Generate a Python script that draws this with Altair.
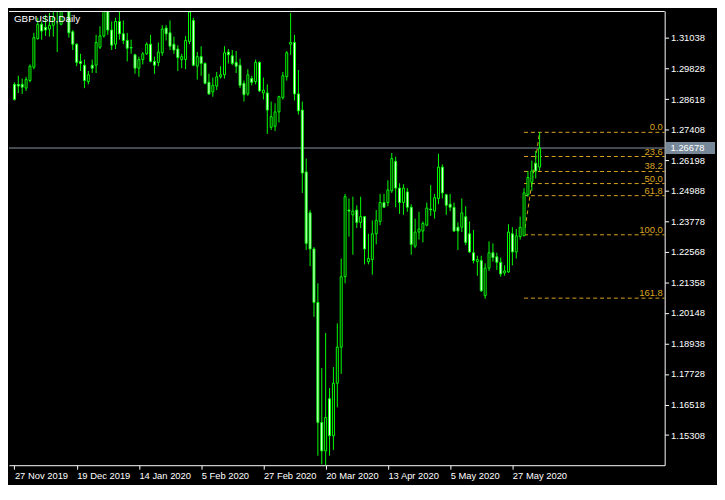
import altair as alt
import pandas as pd

# ---- daily GBPUSD candles, bar index 0 = 27 Nov 2019 ----
opens = [1.2920, 1.2920, 1.2920, 1.2905, 1.2935, 1.2988, 1.3101, 1.3158, 1.3146, 1.3139,
         1.3154, 1.3230, 1.3158, 1.3300, 1.3290, 1.3128, 1.3079, 1.3011, 1.2996, 1.2931,
         1.2996, 1.2996, 1.3067, 1.3112, 1.3225, 1.3135, 1.3079, 1.3169, 1.3120, 1.3094,
         1.3066, 1.3037, 1.2984, 1.3018, 1.3041, 1.3079, 1.3011, 1.3007, 1.3045, 1.3143,
         1.3124, 1.3079, 1.3060, 1.3018, 1.3018, 1.3090, 1.3173, 1.2992, 1.3030, 1.3003,
         1.2928, 1.2890, 1.2913, 1.2950, 1.2958, 1.3048, 1.3033, 1.3007, 1.2996, 1.2924,
         1.2882, 1.2943, 1.2931, 1.3007, 1.2886, 1.2886, 1.2750, 1.2754, 1.2811, 1.2867,
         1.2950, 1.3079, 1.3086, 1.2882, 1.2818, 1.2573, 1.2411, 1.2268, 1.2056, 1.1581,
         1.1468, 1.1675, 1.1528, 1.1736, 1.1879, 1.2158, 1.2422, 1.2403, 1.2422, 1.2373,
         1.2396, 1.2218, 1.2226, 1.2328, 1.2377, 1.2452, 1.2452, 1.2498, 1.2615, 1.2509,
         1.2452, 1.2494, 1.2433, 1.2279, 1.2335, 1.2339, 1.2362, 1.2426, 1.2418, 1.2468,
         1.2592, 1.2483, 1.2445, 1.2433, 1.2354, 1.2354, 1.2396, 1.2328, 1.2253, 1.2218,
         1.2222, 1.2083, 1.2192, 1.2253, 1.2237, 1.2215, 1.2173, 1.2177, 1.2328, 1.2256,
         1.2317, 1.2320, 1.2483, 1.2532, 1.2607, 1.2592]
highs = [1.2928, 1.2954, 1.2943, 1.2950, 1.2999, 1.3124, 1.3184, 1.3169, 1.3195, 1.3203,
         1.3211, 1.3510, 1.3380, 1.3420, 1.3300, 1.3135, 1.3082, 1.3041, 1.3018, 1.2973,
         1.3018, 1.3116, 1.3150, 1.3260, 1.3235, 1.3169, 1.3184, 1.3207, 1.3173, 1.3124,
         1.3097, 1.3041, 1.3030, 1.3048, 1.3086, 1.3116, 1.3030, 1.3086, 1.3154, 1.3154,
         1.3173, 1.3109, 1.3075, 1.3041, 1.3112, 1.3218, 1.3184, 1.3048, 1.3071, 1.3007,
         1.2962, 1.2947, 1.2969, 1.2992, 1.3071, 1.3060, 1.3056, 1.3052, 1.3022, 1.2935,
         1.2980, 1.2954, 1.3018, 1.3011, 1.2947, 1.2920, 1.2852, 1.2845, 1.2875, 1.2969,
         1.3052, 1.3203, 1.3116, 1.2977, 1.2852, 1.2626, 1.2422, 1.2275, 1.2132, 1.1796,
         1.1935, 1.1717, 1.1800, 1.1973, 1.2230, 1.2486, 1.2468, 1.2475, 1.2441, 1.2475,
         1.2399, 1.2328, 1.2381, 1.2422, 1.2486, 1.2486, 1.2540, 1.2648, 1.2633, 1.2528,
         1.2524, 1.2509, 1.2445, 1.2388, 1.2415, 1.2377, 1.2452, 1.2521, 1.2486, 1.2645,
         1.2603, 1.2486, 1.2486, 1.2452, 1.2373, 1.2468, 1.2437, 1.2377, 1.2343, 1.2241,
         1.2241, 1.2211, 1.2298, 1.2290, 1.2253, 1.2234, 1.2203, 1.2366, 1.2354, 1.2347,
         1.2396, 1.2509, 1.2577, 1.2618, 1.2656, 1.2731]
lows = [1.2856, 1.2886, 1.2882, 1.2894, 1.2928, 1.2980, 1.3097, 1.3097, 1.3112, 1.3109,
        1.3109, 1.3048, 1.3154, 1.3280, 1.3105, 1.3056, 1.2992, 1.2973, 1.2905, 1.2920,
        1.2965, 1.2965, 1.3060, 1.3105, 1.3116, 1.3056, 1.3060, 1.3097, 1.3079, 1.3011,
        1.3041, 1.2962, 1.2950, 1.2999, 1.3037, 1.3007, 1.2962, 1.2992, 1.3033, 1.3094,
        1.3056, 1.3041, 1.2973, 1.2984, 1.2980, 1.3079, 1.2992, 1.2939, 1.2954, 1.2920,
        1.2879, 1.2871, 1.2897, 1.2943, 1.2943, 1.3003, 1.2996, 1.2965, 1.2905, 1.2852,
        1.2875, 1.2916, 1.2920, 1.2890, 1.2860, 1.2724, 1.2739, 1.2735, 1.2769, 1.2860,
        1.2935, 1.3037, 1.2856, 1.2800, 1.2490, 1.2264, 1.2200, 1.1999, 1.1449, 1.1415,
        1.1411, 1.1449, 1.1472, 1.1641, 1.1773, 1.2132, 1.2317, 1.2245, 1.2351, 1.2351,
        1.2207, 1.2207, 1.2166, 1.2286, 1.2362, 1.2430, 1.2437, 1.2490, 1.2433, 1.2407,
        1.2403, 1.2415, 1.2245, 1.2271, 1.2305, 1.2294, 1.2358, 1.2399, 1.2388, 1.2445,
        1.2468, 1.2403, 1.2418, 1.2335, 1.2264, 1.2335, 1.2283, 1.2253, 1.2211, 1.2162,
        1.2098, 1.2071, 1.2181, 1.2218, 1.2185, 1.2158, 1.2162, 1.2173, 1.2203, 1.2230,
        1.2305, 1.2320, 1.2475, 1.2498, 1.2547, 1.2577]
closes = [1.2860, 1.2913, 1.2909, 1.2939, 1.2992, 1.3105, 1.3158, 1.3131, 1.3135, 1.3154,
          1.3184, 1.3350, 1.3300, 1.3330, 1.3124, 1.3079, 1.3007, 1.3003, 1.2935, 1.2958,
          1.2984, 1.3086, 1.3112, 1.3235, 1.3135, 1.3075, 1.3169, 1.3120, 1.3094, 1.3063,
          1.3064, 1.2984, 1.3018, 1.3041, 1.3079, 1.3011, 1.2996, 1.3048, 1.3139, 1.3120,
          1.3071, 1.3056, 1.3026, 1.3030, 1.3094, 1.3207, 1.2996, 1.3030, 1.3003, 1.2924,
          1.2882, 1.2916, 1.2950, 1.2958, 1.3045, 1.3037, 1.3003, 1.2992, 1.2916, 1.2879,
          1.2958, 1.2928, 1.3007, 1.2894, 1.2897, 1.2818, 1.2792, 1.2811, 1.2871, 1.2954,
          1.3045, 1.3086, 1.2882, 1.2815, 1.2569, 1.2290, 1.2268, 1.2056, 1.1581, 1.1468,
          1.1600, 1.1528, 1.1736, 1.1879, 1.2158, 1.2475, 1.2418, 1.2418, 1.2373, 1.2396,
          1.2268, 1.2230, 1.2328, 1.2381, 1.2452, 1.2433, 1.2502, 1.2626, 1.2509, 1.2452,
          1.2509, 1.2433, 1.2286, 1.2335, 1.2347, 1.2369, 1.2430, 1.2423, 1.2471, 1.2592,
          1.2490, 1.2441, 1.2433, 1.2339, 1.2339, 1.2411, 1.2294, 1.2256, 1.2222, 1.2226,
          1.2102, 1.2192, 1.2253, 1.2234, 1.2215, 1.2169, 1.2181, 1.2335, 1.2256, 1.2320,
          1.2354, 1.2490, 1.2551, 1.2577, 1.2577, 1.2667]

date_ticks = [0, 16, 32, 48, 64, 80, 96, 112, 128]
date_labels = ["27 Nov 2019", "19 Dec 2019", "14 Jan 2020", "5 Feb 2020", "27 Feb 2020",
               "20 Mar 2020", "13 Apr 2020", "5 May 2020", "27 May 2020"]
price_ticks = [1.15308, 1.16518, 1.17728, 1.18938, 1.20148, 1.21358, 1.22568,
               1.23778, 1.24988, 1.26198, 1.27408, 1.28618, 1.29828, 1.31038]

fib_levels = [0.0, 23.6, 38.2, 50.0, 61.8, 100.0, 161.8]
fib_high = 1.2730
fib_low = 1.2324
fib_start_bar = 131
fib_end_bar = 135
current_price = 1.26678
symbol_title = "GBPUSD,Daily"

# ---- styling ----
PLOT_W = 664
PLOT_H = 460
GREEN = "#00ff00"
ORANGE = "#daa520"
FONT = "Liberation Sans"

n = len(opens)
candles = pd.DataFrame({"bar": list(range(n)), "open": opens, "high": highs,
                        "low": lows, "close": closes})
candles["body_hi"] = candles[["open", "close"]].max(axis=1)
candles["body_lo"] = candles[["open", "close"]].min(axis=1)

fib = pd.DataFrame({"level": fib_levels})
fib["price"] = fib_high - fib["level"] / 100.0 * (fib_high - fib_low)
fib["start"] = fib_start_bar
fib_diag = pd.DataFrame({"x0": [fib_start_bar], "y0": [fib_low],
                         "x1": [fib_end_bar], "y1": [fib_high]})
cur = pd.DataFrame({"price": [current_price]})
title_df = pd.DataFrame({"t": [symbol_title]})
one = pd.DataFrame({"a": [0]})

x_scale = alt.Scale(domain=[-0.125, 165.875], nice=False, zero=False)
y_scale = alt.Scale(domain=[1.14113, 1.32106], nice=False, zero=False)

label_expr = "".join(f"datum.value == {t} ? '{l}' : " for t, l in zip(date_ticks, date_labels)) + "''"

x_axis = alt.Axis(values=date_ticks, labelExpr=label_expr, title=None, grid=False,
                  tickSize=4, tickColor="white", domainColor="white",
                  labelColor="white", labelFont=FONT, labelFontSize=9.5,
                  labelAlign="left", labelPadding=1, labelFlush=False,
                  labelOverlap=False, labelBound=False)
y_axis = alt.Axis(orient="right", values=price_ticks, format=".5f", title=None, grid=False,
                  tickSize=4, tickColor="white", domainColor="white",
                  labelColor="white", labelFont=FONT, labelFontSize=9.5,
                  labelPadding=2, labelFlush=False, labelOverlap=False)


def X(field):
    return alt.X(field, scale=x_scale, axis=x_axis)


def Y(field):
    return alt.Y(field, scale=y_scale, axis=y_axis)


price_line = alt.Chart(cur).mark_rule(color="#8a98a8", strokeWidth=1).encode(
    x=alt.value(0), x2=alt.value(PLOT_W), y=Y("price:Q"),
)

fib_lines = alt.Chart(fib).mark_rule(color=ORANGE, strokeWidth=1, strokeDash=[4, 3]).encode(
    x=X("start:Q"), x2=alt.value(PLOT_W), y=Y("price:Q"),
)
fib_trend = alt.Chart(fib_diag).mark_rule(color=ORANGE, strokeWidth=1, strokeDash=[4, 3]).encode(
    x=X("x0:Q"), x2="x1:Q", y=Y("y0:Q"), y2="y1:Q",
)

wicks = alt.Chart(candles).mark_rule(color=GREEN, strokeWidth=1, clip=True).encode(
    x=X("bar:Q"), y=Y("low:Q"), y2="high:Q",
)
bodies = alt.Chart(candles).mark_bar(size=2, stroke=GREEN, strokeWidth=1, clip=True).encode(
    x=X("bar:Q"), y=Y("body_lo:Q"), y2="body_hi:Q",
    fill=alt.condition(alt.datum.close < alt.datum.open, alt.value("white"), alt.value("black")),
)

fib_text = alt.Chart(fib).mark_text(align="right", baseline="alphabetic", dy=-2,
                                    color=ORANGE, font=FONT, fontSize=9.5).encode(
    x=alt.value(PLOT_W - 2), y=Y("price:Q"),
    text=alt.Text("level:Q", format=".1f"),
)

title_text = alt.Chart(title_df).mark_text(align="left", baseline="top", color="white",
                                           font=FONT, fontSize=10).encode(
    x=alt.value(5), y=alt.value(3), text="t:N",
)

top_rule = alt.Chart(one).mark_rule(color="white", strokeWidth=1).encode(
    x=alt.value(0), x2=alt.value(PLOT_W), y=alt.value(0.5),
)

price_box = alt.Chart(cur).mark_point(
    shape="M-1,-0.24L1,-0.24L1,0.24L-1,0.24Z", size=2500, filled=True,
    fill="#778899", opacity=1, strokeWidth=0).encode(
    x=alt.value(PLOT_W + 26), y=Y("price:Q"),
)
price_text = alt.Chart(cur).mark_text(align="left", baseline="middle", color="white",
                                      font=FONT, fontSize=9.5).encode(
    x=alt.value(PLOT_W + 6), y=Y("price:Q"),
    text=alt.Text("price:Q", format=".5f"),
)

chart = alt.layer(
    price_line, fib_lines, fib_trend, wicks, bodies, fib_text,
    title_text, top_rule, price_box, price_text,
).properties(
    width=PLOT_W, height=PLOT_H, background="black",
    padding={"left": 0, "top": 0, "right": 2, "bottom": 2},
).configure_view(stroke=None)

chart.save("out.html", embed_options={"renderer": "svg", "actions": False})
